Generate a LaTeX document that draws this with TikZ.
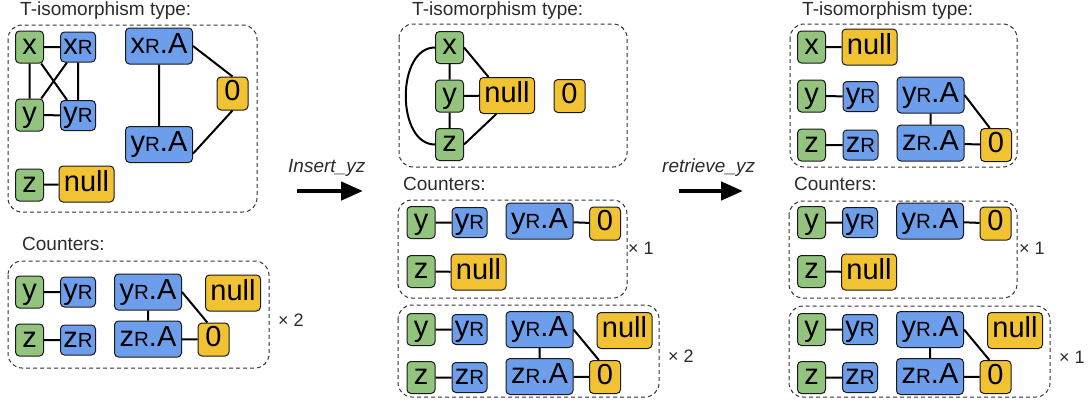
\documentclass[tikz,border=0pt]{standalone}
\usepackage{fontspec}
\setmainfont{Liberation Sans}
\usetikzlibrary{arrows.meta}

\definecolor{vargreen}{HTML}{93C47D}
\definecolor{refblue}{HTML}{6D9EEB}
\definecolor{valyellow}{HTML}{F1C232}
\definecolor{inkgray}{HTML}{2B2B2B}

\newcommand{\nodefont}{\fontsize{29}{32}\selectfont}
\newcommand{\capfont}{\fontsize{19}{22}\selectfont}
\newcommand{\sR}{{\fontsize{20.5}{20}\selectfont R}}

\tikzset{
  cell/.style={draw=black!90, line width=1pt, rounded corners=4pt, inner sep=0pt,
    text height=19pt, text depth=5pt, font=\nodefont},
  var/.style={cell, fill=vargreen, minimum width=28pt, minimum height=32pt},
  rvar/.style={cell, fill=refblue, minimum width=35pt, minimum height=30pt},
  attr/.style={cell, fill=refblue, minimum width=67pt, minimum height=36pt},
  nul/.style={cell, fill=valyellow, minimum width=55pt, minimum height=36pt},
  zero/.style={cell, fill=valyellow, minimum width=31pt, minimum height=33pt},
  link/.style={line width=2pt},
  group/.style={draw=black!80, line width=1pt, dash pattern=on 4pt off 3pt, rounded corners=14pt},
  caption/.style={anchor=base west, inner sep=0pt, font=\capfont, text=inkgray},
  mult/.style={anchor=west, inner sep=0pt, font=\fontsize{18}{20}\selectfont, text=inkgray},
  move/.style={line width=4.5pt, -{Triangle[length=22pt, width=18pt]}},
}

\begin{document}
\begin{tikzpicture}[x=1pt,y=-1pt]
  \useasboundingbox (0,0) rectangle (1089,407);

  % left: type
  \node[caption] (t1cap) at (20,15.5) {T-isomorphism type:};
  \draw[group] (8,25) rectangle (257,212);
  \node[var] (t1x) at (29.5,47) {x};
  \node[rvar] (t1xr) at (78,47) {x\sR};
  \node[var] (t1y) at (29.5,115) {y};
  \node[rvar] (t1yr) at (78,115.5) {y\sR};
  \node[attr] (t1xra) at (159,46) {x\sR.A};
  \node[attr] (t1yra) at (159,144.5) {y\sR.A};
  \node[zero] (t1zero) at (232.5,93.5) {0};
  \node[var] (t1z) at (29.5,185) {z};
  \node[nul] (t1null) at (86.5,184) {null};
  \draw[link] (t1x) -- (t1xr) (t1x) -- (t1y) (t1xr) -- (t1yr) (t1y) -- (t1yr)
    (t1x) -- (t1yr) (t1xr) -- (t1y) (t1xra) -- (t1yra)
    (t1xra.east) -- (t1zero.north) (t1yra.-15) -- (t1zero.south) (t1z) -- (t1null);

  % left: counters
  \node[caption] (c1cap) at (22,250) {Counters:};
  \draw[group] (8,261) rectangle (269,368);
  \node[mult] (c1n) at (278,320) {× 2};

  % groups with y, z, yR.A, zR.A
  \foreach \p/\ox/\oy in {c1/29.5/292, c2b/421/329.5, c3b/811.5/329.5} {
    \node[var] (\p-y) at (\ox,\oy) {y};
    \node[rvar] (\p-yr) at (\ox+48.5,\oy) {y\sR};
    \node[var] (\p-z) at (\ox,\oy+48) {z};
    \node[rvar] (\p-zr) at (\ox+48.5,\oy+48) {z\sR};
    \node[attr] (\p-yra) at (\ox+118.5,\oy) {y\sR.A};
    \node[attr] (\p-zra) at (\ox+118.5,\oy+47) {z\sR.A};
    \node[nul] (\p-null) at (\ox+203.5,\oy+1) {null};
    \node[zero] (\p-zero) at (\ox+184,\oy+47.5) {0};
    \draw[link] (\p-y) -- (\p-yr) (\p-z) -- (\p-zr) (\p-yra) -- (\p-zra)
      (\p-yra.east) -- (\p-zero.110) (\p-zra) -- (\p-zero);
  }

  % groups with z -- null
  \foreach \p/\ox in {c2a/421, c3a/811.5} {
    \node[var] (\p-y) at (\ox,222.5) {y};
    \node[rvar] (\p-yr) at (\ox+48.5,222.5) {y\sR};
    \node[attr] (\p-yra) at (\ox+118.5,221) {y\sR.A};
    \node[zero] (\p-zero) at (\ox+184,223.5) {0};
    \node[var] (\p-z) at (\ox,271.5) {z};
    \node[nul] (\p-null) at (\ox+57.5,272) {null};
    \draw[link] (\p-y) -- (\p-yr) (\p-yra) -- (\p-zero) (\p-z) -- (\p-null);
  }

  % first step
  \node[caption, font=\capfont\itshape] (ins) at (288,172) {Insert\_yz};
  \coordinate (go1) at (297,191);
  \coordinate (go2) at (363,191);
  \draw[move] (go1) -- (go2);

  % middle: type
  \node[caption] (t2cap) at (412,15.5) {T-isomorphism type:};
  \draw[group] (399,24) rectangle (627,167);
  \node[var] (t2x) at (449.5,47.5) {x};
  \node[var] (t2y) at (449.5,96) {y};
  \node[var] (t2z) at (449.5,144.5) {z};
  \node[nul] (t2null) at (507,95.5) {null};
  \node[zero] (t2zero) at (569.5,96) {0};
  \draw[link] (t2x) -- (t2y) (t2y) -- (t2z) (t2y) -- (t2null)
    (t2x.east) -- (t2null.135) (t2z.east) -- (t2null.-120)
    (t2x.west) .. controls +(-39,0) and +(-39,0) .. (t2z.west);

  % middle: counters
  \node[caption] (c2cap) at (403,190.5) {Counters:};
  \draw[group] (398,200) rectangle (627,298);
  \node[mult] (c2an) at (628,248) {× 1};
  \draw[group] (398,305) rectangle (659,397);
  \node[mult] (c2bn) at (668,356) {× 2};

  % second step
  \node[caption, font=\capfont\itshape] (ret) at (662,172) {retrieve\_yz};
  \coordinate (go3) at (679,191);
  \coordinate (go4) at (743,191);
  \draw[move] (go3) -- (go4);

  % right: type
  \node[caption] (t3cap) at (802,15.5) {T-isomorphism type:};
  \draw[group] (790,24) rectangle (1017,167);
  \node[var] (t3x) at (811.5,47) {x};
  \node[nul] (t3null) at (869.5,47) {null};
  \node[var] (t3y) at (811.5,96) {y};
  \node[rvar] (t3yr) at (860.5,96.5) {y\sR};
  \node[attr] (t3yra) at (930.5,95) {y\sR.A};
  \node[var] (t3z) at (811.5,145) {z};
  \node[rvar] (t3zr) at (860.5,145) {z\sR};
  \node[attr] (t3zra) at (930.5,143) {z\sR.A};
  \node[zero] (t3zero) at (996,145) {0};
  \draw[link] (t3x) -- (t3null) (t3y) -- (t3yr) (t3z) -- (t3zr) (t3yra) -- (t3zra)
    (t3yra.east) -- (t3zero.110) (t3zra) -- (t3zero);

  % right: counters
  \node[caption] (c3cap) at (794,190.5) {Counters:};
  \draw[group] (789,201) rectangle (1017,298);
  \node[mult] (c3an) at (1019,248) {× 1};
  \draw[group] (789,306) rectangle (1050,397);
  \node[mult] (c3bn) at (1059,357) {× 1};
\end{tikzpicture}
\end{document}
